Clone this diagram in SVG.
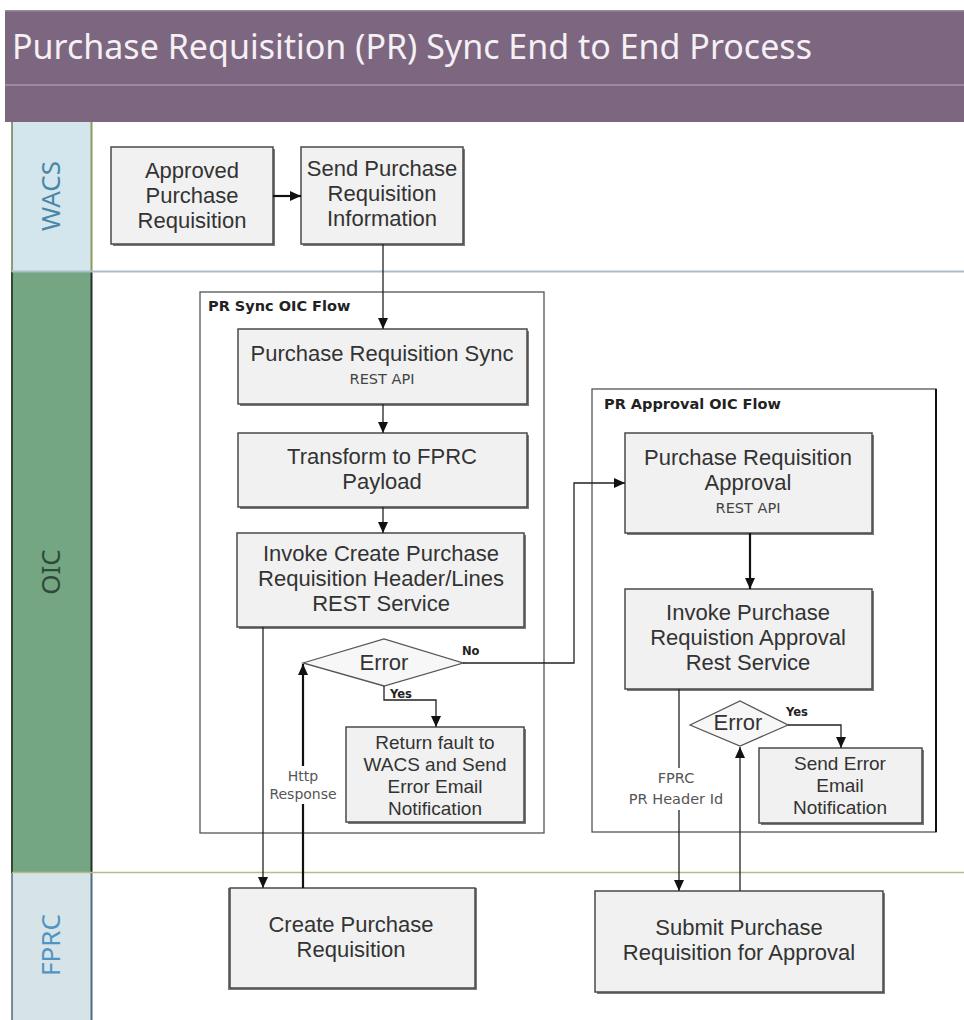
<svg xmlns="http://www.w3.org/2000/svg" width="964" height="1020" viewBox="0 0 964 1020">
<defs>
<marker id="arr" markerUnits="userSpaceOnUse" markerWidth="12" markerHeight="10" refX="11" refY="5" orient="auto"><path d="M0,0 L11,5 L0,10 Z" fill="#111"/></marker>
<style>
.box{fill:#f1f1f1;stroke:#4a4a4a;stroke-width:1.5}
.shadow{fill:#7a7a7a}
.t{font-family:"Liberation Sans",Arial,sans-serif;font-size:22px;fill:#333;text-anchor:middle;dominant-baseline:central}
.tm{font-family:"Liberation Sans",Arial,sans-serif;font-size:19px;fill:#333;text-anchor:middle;dominant-baseline:central}
.ts{font-family:"DejaVu Sans","Noto Sans",sans-serif;font-size:14.5px;fill:#444;text-anchor:middle;dominant-baseline:central}
.tl{font-family:"DejaVu Sans","Noto Sans",sans-serif;font-size:14px;fill:#555;text-anchor:middle;dominant-baseline:central}
.tb{font-family:"DejaVu Sans","Noto Sans",sans-serif;font-size:14.5px;font-weight:bold;fill:#222}
.ty{font-family:"DejaVu Sans","Noto Sans",sans-serif;font-size:11.5px;font-weight:bold;fill:#222;dominant-baseline:central}
.cont{fill:none;stroke:#555;stroke-width:1.3}
.c{fill:none;stroke:#222;stroke-width:1.3}
.c2{fill:none;stroke:#111;stroke-width:2.2}
.lane{font-family:"Noto Sans","Open Sans",sans-serif;font-size:26px;text-anchor:middle;dominant-baseline:central}
</style>
</defs>
<rect width="964" height="1020" fill="#ffffff"/>
<!-- title bar -->
<g id="title">
<rect x="5" y="10" width="959" height="112" fill="#7d6680"/>
<rect x="5" y="10" width="959" height="1.5" fill="#9a879c"/>
<rect x="5" y="84" width="959" height="2" fill="#9c8a9e"/>
<text x="12" y="46" font-family="Noto Sans,Open Sans,sans-serif" font-size="34" fill="#f4f0f4" dominant-baseline="central">Purchase Requisition (PR) Sync End to End Process</text>
</g>
<!-- lanes -->
<g id="lane-wacs">
<rect x="12" y="122" width="80" height="150" fill="#d3e6ee"/>
<line x1="12" y1="122" x2="12" y2="272" stroke="#6f7a55" stroke-width="1.5"/>
<line x1="91.5" y1="122" x2="91.5" y2="272" stroke="#8d9a5a" stroke-width="2"/>
<text class="lane" transform="translate(50,196) rotate(-90)" fill="#4a86a6">WACS</text>
</g>
<g id="lane-oic">
<rect x="12" y="272" width="80" height="601" fill="#74a683"/>
<line x1="12" y1="272" x2="12" y2="873" stroke="#2f4a35" stroke-width="2"/>
<line x1="91.5" y1="272" x2="91.5" y2="873" stroke="#2a2f2a" stroke-width="2"/>
<text class="lane" transform="translate(50,572) rotate(-90)" fill="#2f4a38">OIC</text>
</g>
<g id="lane-fprc">
<rect x="12" y="873" width="80" height="147" fill="#d6e4e8"/>
<line x1="12" y1="873" x2="12" y2="1020" stroke="#4f6b78" stroke-width="1.5"/>
<line x1="91.5" y1="873" x2="91.5" y2="1020" stroke="#4f6b78" stroke-width="2"/>
<text class="lane" transform="translate(50,945) rotate(-90)" fill="#4e95c4">FPRC</text>
</g>
<line x1="12" y1="271.5" x2="964" y2="271.5" stroke="#a9bec8" stroke-width="2"/>
<line x1="12" y1="872.5" x2="964" y2="872.5" stroke="#b7bb8c" stroke-width="1.5"/>
<!-- containers -->
<g id="pr-sync-flow">
<rect class="cont" x="200" y="292" width="344" height="541"/>
<text class="tb" x="208" y="311">PR Sync OIC Flow</text>
</g>
<g id="pr-approval-flow">
<rect class="cont" x="592" y="389" width="344" height="443"/>
<line x1="936" y1="389" x2="936" y2="832" stroke="#111" stroke-width="2"/>
<text class="tb" x="604" y="409">PR Approval OIC Flow</text>
</g>
<!-- nodes -->
<g id="approved-pr">
<rect class="shadow" x="113" y="149" width="162" height="97"/>
<rect class="box" x="111" y="147" width="162" height="97"/>
<text class="t" x="192" y="170">Approved</text>
<text class="t" x="192" y="195">Purchase</text>
<text class="t" x="192" y="220">Requisition</text>
</g>
<g id="send-pr-info">
<rect class="shadow" x="303" y="149" width="162" height="97"/>
<rect class="box" x="301" y="147" width="162" height="97"/>
<text class="t" x="382" y="168">Send Purchase</text>
<text class="t" x="382" y="193">Requisition</text>
<text class="t" x="382" y="218">Information</text>
</g>
<g id="pr-sync-api">
<rect class="shadow" x="240" y="331" width="289" height="75"/>
<rect class="box" x="238" y="329" width="289" height="75"/>
<text class="t" x="382" y="353">Purchase Requisition Sync</text>
<text class="ts" x="382" y="379">REST API</text>
</g>
<g id="transform">
<rect class="shadow" x="240" y="435" width="289" height="74"/>
<rect class="box" x="238" y="433" width="289" height="74"/>
<text class="t" x="382" y="456">Transform to FPRC</text>
<text class="t" x="382" y="481">Payload</text>
</g>
<g id="invoke-create">
<rect class="shadow" x="239" y="535" width="287" height="94"/>
<rect class="box" x="237" y="533" width="287" height="94"/>
<text class="t" x="381" y="553">Invoke Create Purchase</text>
<text class="t" x="381" y="578">Requisition Header/Lines</text>
<text class="t" x="381" y="603">REST Service</text>
</g>
<g id="error-1">
<polygon points="303,663 384,639 463,663 384,686" fill="#f7f7f7" stroke="#555" stroke-width="1.3"/>
<text class="t" x="384" y="662">Error</text>
</g>
<g id="return-fault">
<rect class="shadow" x="348" y="729" width="178" height="95"/>
<rect class="box" x="346" y="727" width="178" height="95"/>
<text class="tm" x="435" y="742">Return fault to</text>
<text class="tm" x="435" y="764">WACS and Send</text>
<text class="tm" x="435" y="786">Error Email</text>
<text class="tm" x="435" y="808">Notification</text>
</g>
<g id="create-pr">
<rect class="shadow" x="228" y="888" width="249" height="102"/>
<rect class="box" x="230" y="888" width="245" height="100"/>
<text class="t" x="351" y="924">Create Purchase</text>
<text class="t" x="351" y="949">Requisition</text>
</g>
<g id="pr-approval-api">
<rect class="shadow" x="627" y="435" width="247" height="100"/>
<rect class="box" x="625" y="433" width="247" height="100"/>
<text class="t" x="748" y="457">Purchase Requisition</text>
<text class="t" x="748" y="482">Approval</text>
<text class="ts" x="748" y="508">REST API</text>
</g>
<g id="invoke-approval">
<rect class="shadow" x="627" y="591" width="247" height="100"/>
<rect class="box" x="625" y="589" width="247" height="100"/>
<text class="t" x="748" y="612">Invoke Purchase</text>
<text class="t" x="748" y="637">Requistion Approval</text>
<text class="t" x="748" y="662">Rest Service</text>
</g>
<g id="error-2">
<polygon points="690,725 740,701 788,725 740,746" fill="#f7f7f7" stroke="#555" stroke-width="1.3"/>
<text class="t" x="738" y="722">Error</text>
</g>
<g id="send-error-email">
<rect class="shadow" x="761" y="750" width="163" height="75"/>
<rect class="box" x="759" y="748" width="163" height="75"/>
<text class="tm" x="840" y="763">Send Error</text>
<text class="tm" x="840" y="785">Email</text>
<text class="tm" x="840" y="807">Notification</text>
</g>
<g id="submit-pr">
<rect class="shadow" x="597" y="893" width="288" height="101"/>
<rect class="box" x="595" y="891" width="288" height="101"/>
<text class="t" x="739" y="927">Submit Purchase</text>
<text class="t" x="739" y="952">Requisition for Approval</text>
</g>
<!-- connectors -->
<g id="connectors">
<line class="c2" x1="273" y1="196" x2="301" y2="196" marker-end="url(#arr)"/>
<line class="c" x1="383" y1="244" x2="383" y2="329" marker-end="url(#arr)"/>
<line class="c" x1="383" y1="404" x2="383" y2="433" marker-end="url(#arr)"/>
<line class="c" x1="383" y1="507" x2="383" y2="533" marker-end="url(#arr)"/>
<line class="c" x1="263" y1="627" x2="263" y2="888" marker-end="url(#arr)"/>
<line class="c2" x1="303" y1="888" x2="303" y2="664" marker-end="url(#arr)"/>
<path class="c" d="M384,686 V700 H436 V727" marker-end="url(#arr)"/>
<path class="c" d="M463,663 H574 V483 H625" marker-end="url(#arr)"/>
<line class="c2" x1="750" y1="533" x2="750" y2="589" marker-end="url(#arr)"/>
<line class="c" x1="679" y1="689" x2="679" y2="891" marker-end="url(#arr)"/>
<line class="c" x1="740" y1="891" x2="740" y2="747" marker-end="url(#arr)"/>
<path class="c" d="M788,725 H841 V748" marker-end="url(#arr)"/>
<rect x="265" y="766" width="76" height="38" fill="#ffffff"/>
<text class="tl" x="303" y="776">Http</text>
<text class="tl" x="303" y="794">Response</text>
<rect x="620" y="768" width="116" height="42" fill="#ffffff"/>
<text class="tl" x="676" y="778" style="font-size:14.5px">FPRC</text>
<text class="tl" x="676" y="799" style="font-size:14.5px">PR Header Id</text>
<text class="ty" x="462" y="651">No</text>
<text class="ty" x="390" y="694">Yes</text>
<text class="ty" x="786" y="712">Yes</text>
</g>
</svg>
